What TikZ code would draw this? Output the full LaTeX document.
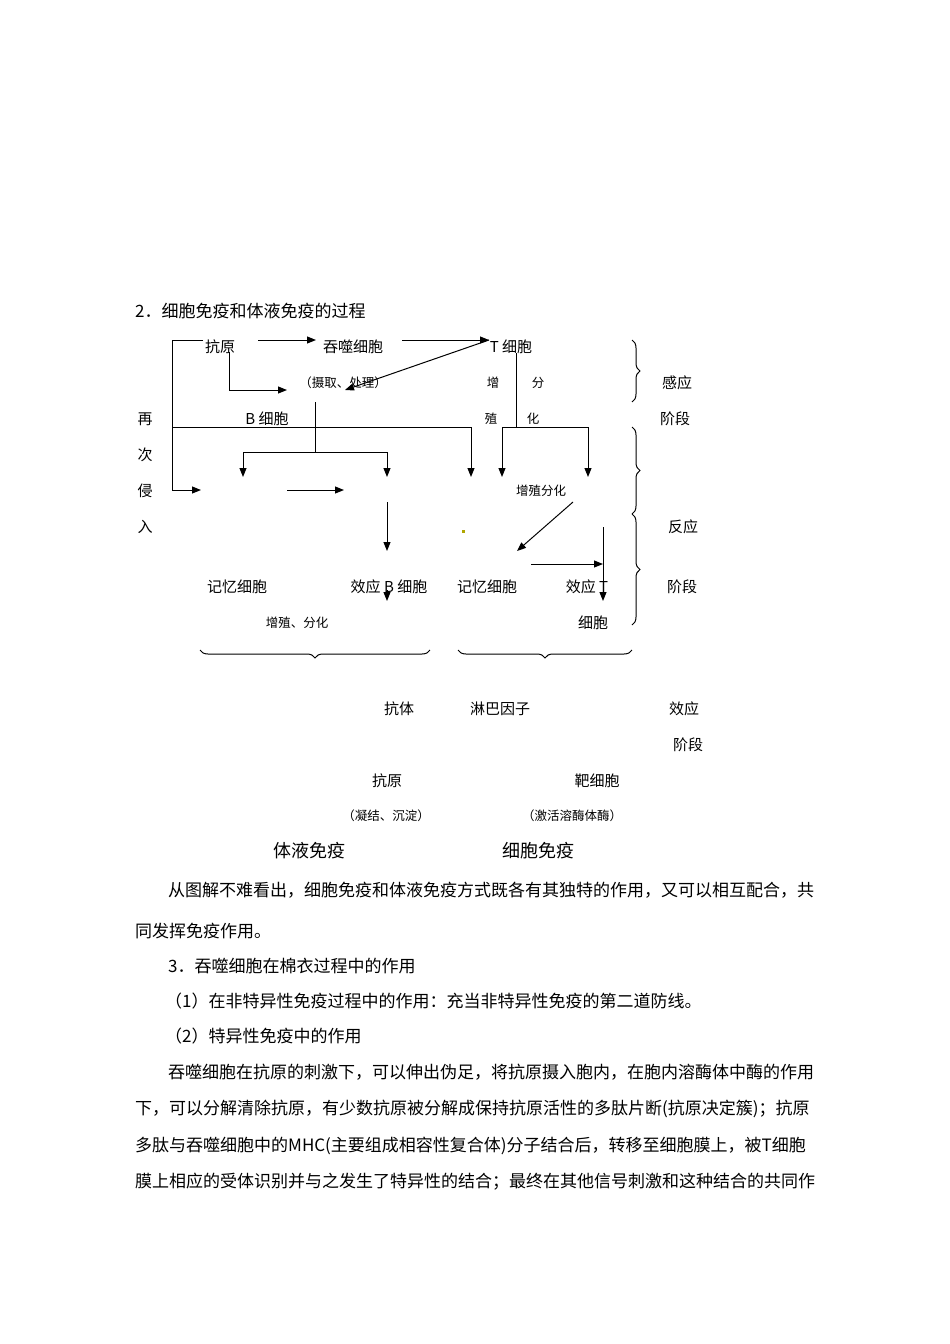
\documentclass[tikz,border=0pt]{standalone}
\usepackage{fontspec}
\setmainfont{Noto Sans CJK SC}
\usetikzlibrary{arrows.meta,decorations.pathreplacing}
\begin{document}
\begin{tikzpicture}[x=1pt,y=-1pt,
  lab/.style={inner sep=0pt,font=\fontsize{15}{15}\selectfont},
  sm/.style={inner sep=0pt,font=\fontsize{12.5}{13}\selectfont},
  big/.style={inner sep=0pt,font=\fontsize{18}{18}\selectfont},
  para/.style={inner sep=0pt,anchor=west,font=\fontsize{17}{17}\selectfont},
  ln/.style={line width=1pt},
  ar/.style={line width=1pt,-{Triangle[length=9pt,width=7pt]}},
  br/.style={decorate,decoration={brace,amplitude=8pt},line width=1pt}]
\useasboundingbox (0,0) rectangle (950,1344);
\node[para] (title) at (135,311) {2．细胞免疫和体液免疫的过程};
% nodes
\node[lab] (ky) at (220,347) {抗原};
\node[lab] (ts) at (353,347) {吞噬细胞};
\node[lab] (tc) at (511,347) {T 细胞};
\node[sm] (sq) at (343,383) {（摄取、处理）};
\node[sm] (z1) at (493,383) {增};
\node[sm] (f1) at (538,383) {分};
\node[sm] (z2) at (491,419) {殖};
\node[sm] (f2) at (533,419) {化};
\node[lab] (bc) at (267,419) {B 细胞};
\node[lab] (zai) at (145,419) {再};
\node[lab] (ci) at (145,455) {次};
\node[lab] (qin) at (145,491) {侵};
\node[lab] (ru) at (145,527) {入};
\node[sm] (zzfh) at (541,491) {增殖分化};
\node[lab] (jy1) at (237,587) {记忆细胞};
\node[lab] (xb) at (389,587) {效应 B 细胞};
\node[lab] (jy2) at (487,587) {记忆细胞};
\node[lab] (xt) at (587,587) {效应 T};
\node[lab] (xbt) at (593,623) {细胞};
\node[sm] (zzfh2) at (297,623) {增殖、分化};
\node[lab] (gy) at (677,383) {感应};
\node[lab] (jd1) at (675,419) {阶段};
\node[lab] (fy) at (683,527) {反应};
\node[lab] (jd2) at (682,587) {阶段};
\node[lab] (kt) at (399,709) {抗体};
\node[lab] (lb) at (500,709) {淋巴因子};
\node[lab] (xy) at (684,709) {效应};
\node[lab] (jd3) at (688,745) {阶段};
\node[lab] (ky2) at (387,781) {抗原};
\node[lab] (bx) at (597,781) {靶细胞};
\node[sm] (nj) at (386,816) {（凝结、沉淀）};
\node[sm] (jh) at (572,816) {（激活溶酶体酶）};
\node[big] (ty) at (309,851) {体液免疫};
\node[big] (xbm) at (538,851) {细胞免疫};
\fill[olive!70!yellow] (462,530) rectangle (465,533);
% coordinates
\coordinate (L1) at (172,340); \coordinate (L2) at (172,490);
\coordinate (A1) at (203,340);
% connectors
\draw[ln] (A1) -- (L1) -- (L2);
\draw[ar] (L2) -- (201,490);
\draw[ar] (258,340) -- (316,340);
\draw[ar] (402,340) -- (489,340);
\draw[ar] (489,340) -- (345,390);
\draw[ar] (229,352) -- (229,390) -- (287,390);
\draw[ln] (315,402) -- (315,452);
\draw[ar] (172,427) -- (471,427) -- (471,477);
\draw[ln] (243,452) -- (387,452);
\draw[ar] (243,452) -- (243,477);
\draw[ar] (387,452) -- (387,477);
\draw[ar] (287,490) -- (344,490);
\draw[ar] (387,502) -- (387,551);
\draw[ar] (387,590) -- (387,601);
\draw[ln] (516,353) -- (516,427);
\draw[ln] (502,427) -- (588,427);
\draw[ar] (502,427) -- (502,477);
\draw[ar] (588,427) -- (588,477);
\draw[ar] (573,502) -- (517,551);
\draw[ar] (531,564) -- (603,564);
\draw[ar] (603,527) -- (603,601);
% braces
\draw[br] (632,340) -- (632,402);
\draw[br] (632,427) -- (632,514);
\draw[br] (632,514) -- (632,625);
\draw[br] (430,650) -- (200,650);
\draw[br] (632,650) -- (458,650);
% paragraph
\node[para] (p1) at (168,890) {从图解不难看出，细胞免疫和体液免疫方式既各有其独特的作用，又可以相互配合，共};
\node[para] (p2) at (135,931) {同发挥免疫作用。};
\node[para] (p3) at (168,966) {3．吞噬细胞在棉衣过程中的作用};
\node[para] (p4) at (165,1001) {（1）在非特异性免疫过程中的作用：充当非特异性免疫的第二道防线。};
\node[para] (p5) at (165,1036) {（2）特异性免疫中的作用};
\node[para] (p6) at (168,1072) {吞噬细胞在抗原的刺激下，可以伸出伪足，将抗原摄入胞内，在胞内溶酶体中酶的作用};
\node[para] (p7) at (135,1109) {下，可以分解清除抗原，有少数抗原被分解成保持抗原活性的多肽片断(抗原决定簇)；抗原};
\node[para] (p8) at (135,1146) {多肽与吞噬细胞中的MHC(主要组成相容性复合体)分子结合后，转移至细胞膜上，被T细胞};
\node[para] (p9) at (135,1182) {膜上相应的受体识别并与之发生了特异性的结合；最终在其他信号刺激和这种结合的共同作};
\end{tikzpicture}
\end{document}
